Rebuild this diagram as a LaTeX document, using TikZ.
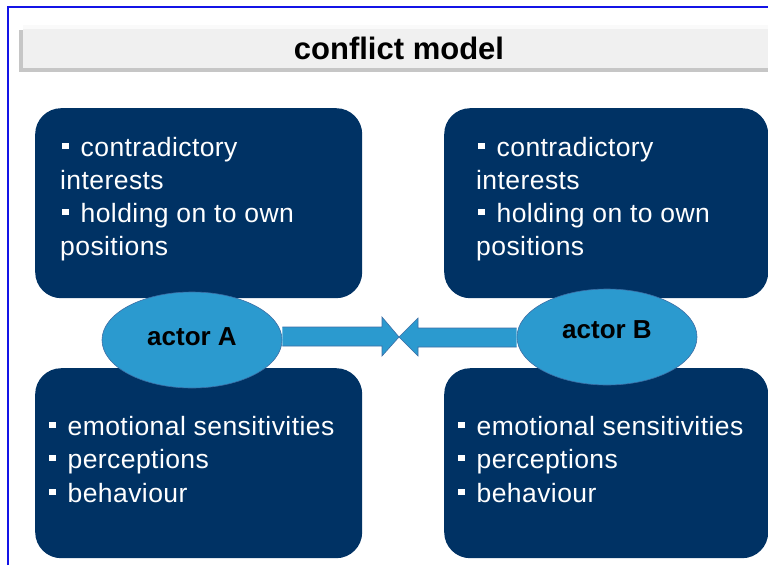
\documentclass[tikz,border=0pt]{standalone}
\usepackage{fontspec}
\setmainfont{Liberation Sans}
\newfontfamily\bodyfont[LetterSpace=1.6]{Liberation Sans}
\usetikzlibrary{shapes.geometric}
\definecolor{navy}{RGB}{0,50,100}
\definecolor{actorfill}{RGB}{43,154,207}
\definecolor{actorline}{RGB}{60,110,165}
\definecolor{framecol}{RGB}{20,20,230}
\definecolor{barfill}{RGB}{240,240,240}
\newcommand{\blt}{\rule[7pt]{6.5pt}{6.5pt}\hspace{12pt}}
\tikzset{
  panel/.style={fill=navy, draw=none, rounded corners=26pt, inner sep=0pt, anchor=north west},
  line/.style={text=white, font=\bodyfont\fontsize{26.5}{33}\selectfont, inner sep=0pt, anchor=base west},
  actor/.style={ellipse, fill=actorfill, draw=actorline, line width=0.6pt, inner sep=0pt,
    minimum width=180pt, minimum height=96pt},
  actortext/.style={font=\bfseries\fontsize{26}{30}\selectfont, inner sep=0pt},
  blockarrow/.style={fill=actorfill, draw=actorline, line width=0.6pt, line join=miter}
}
\begin{document}
\begin{tikzpicture}[x=1pt,y=-1pt]
\useasboundingbox (0,0) rectangle (768,565);
\fill[white] (0,0) rectangle (768,565);
% frame
\draw[framecol, line width=1.6pt] (8,565) -- (8,7) -- (768,7);
% title bar
\fill[gray!45] (19,30) rectangle (770,72);
\fill[barfill] (23,25) rectangle (770,68);
\fill[white!96!gray] (23,25) rectangle (770,29);
\node[font=\bfseries\fontsize{31}{36}\selectfont, inner sep=0pt] (title) at (399,48) {conflict model};
% panels
\node[panel, minimum width=327pt, minimum height=190pt] (tl) at (35,108) {};
\node[panel, minimum width=324pt, minimum height=190pt] (tr) at (444,108) {};
\node[panel, minimum width=327pt, minimum height=190pt] (bl) at (35,368) {};
\node[panel, minimum width=324pt, minimum height=190pt] (br) at (444,368) {};
% texts top-left
\node[line] (tl1) at (62,156) {\blt contradictory};
\node[line] (tl2) at (60,189) {interests};
\node[line] (tl3) at (62,222) {\blt holding on to own};
\node[line] (tl4) at (60,255) {positions};
% texts top-right
\node[line] (tr1) at (478,156) {\blt contradictory};
\node[line] (tr2) at (476,189) {interests};
\node[line] (tr3) at (478,222) {\blt holding on to own};
\node[line] (tr4) at (476,255) {positions};
% texts bottom-left
\node[line] (bl1) at (49,435) {\blt emotional sensitivities};
\node[line] (bl2) at (49,468) {\blt perceptions};
\node[line] (bl3) at (49,502) {\blt behaviour};
% texts bottom-right
\node[line] (br1) at (458,435) {\blt emotional sensitivities};
\node[line] (br2) at (458,468) {\blt perceptions};
\node[line] (br3) at (458,502) {\blt behaviour};
% actors
\node[actor] (a) at (192,340) {};
\node[actortext] (alab) at (192,337) {actor A};
\node[actor] (b) at (607,337) {};
\node[actortext] (blab) at (607,330) {actor B};
\coordinate (meet) at (399,337);
% arrows
\draw[blockarrow] (a.east |- 0,327) -- (382,327) -- (382,317) -- (meet) -- (382,356) -- (382,346) -- (a.east |- 0,346);
\draw[blockarrow] (b.west |- 0,328) -- (418,328) -- (418,318) -- (meet) -- (418,356) -- (418,347) -- (b.west |- 0,347);
\end{tikzpicture}
\end{document}
